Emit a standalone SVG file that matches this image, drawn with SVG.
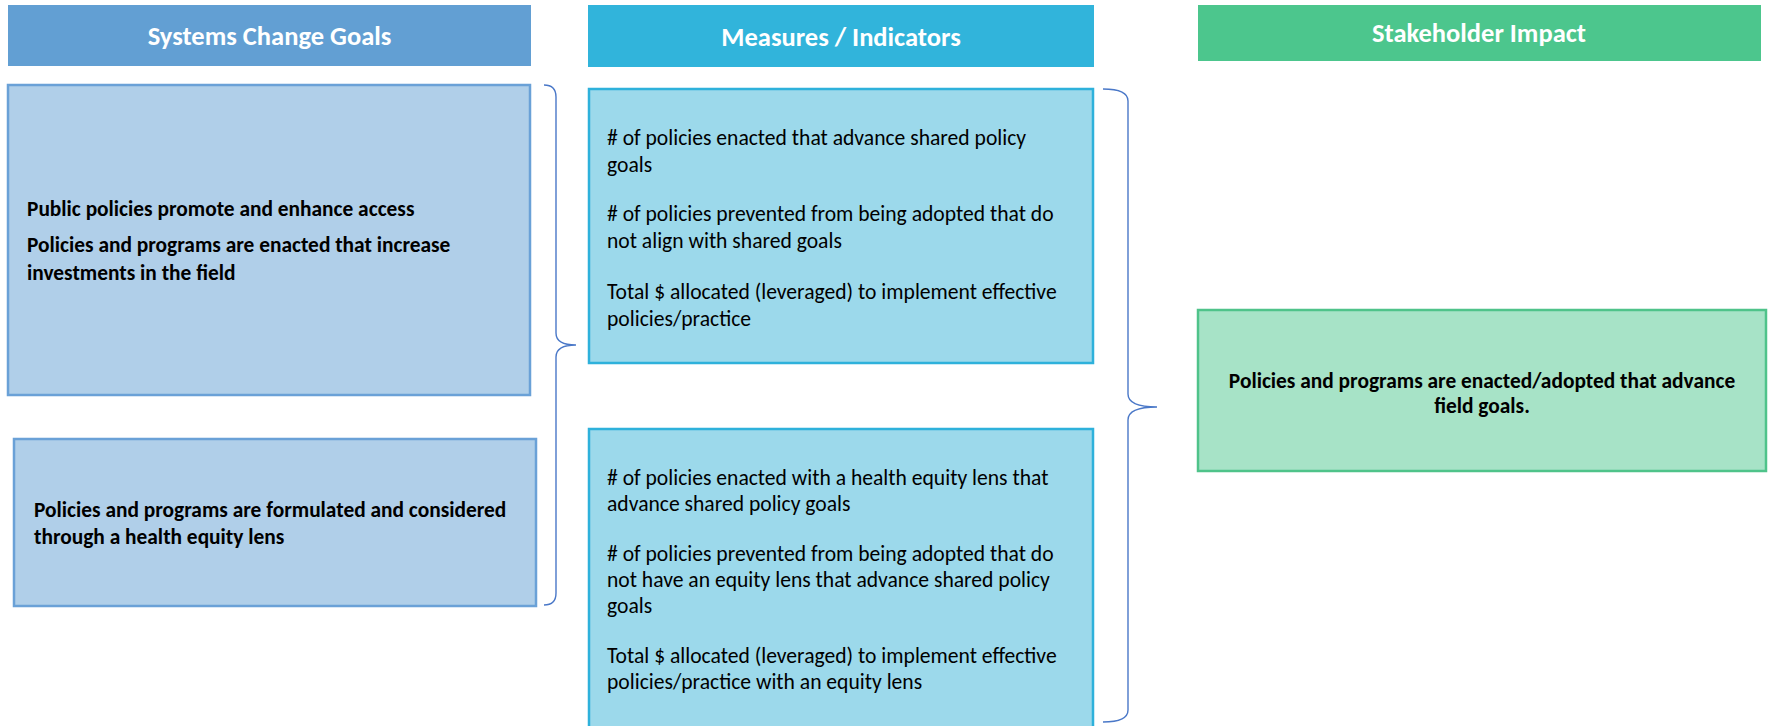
<svg xmlns="http://www.w3.org/2000/svg" width="1768" height="726" viewBox="0 0 1768 726">
<style>
  .hdr { font-family: Carlito, Lato, "Liberation Sans", sans-serif; font-weight: bold; font-size: 26.5px; fill: #ffffff; text-anchor: middle; }
  .bt { font-family: Carlito, Lato, "Liberation Sans", sans-serif; font-weight: bold; font-size: 21.4px; fill: #000000; }
  .rt { font-family: Carlito, Lato, "Liberation Sans", sans-serif; font-size: 21.6px; fill: #000000; }
  .goal { fill: #B0CFE9; stroke: #6AA1D7; stroke-width: 2.5; }
  .meas { fill: #9CD9EB; stroke: #2EB1DB; stroke-width: 2.5; }
  .imp { fill: #A7E3C7; stroke: #4FC38A; stroke-width: 2.5; }
  .brace { fill: none; stroke: #4A78C8; stroke-width: 1.4; }
</style>
<rect width="1768" height="726" fill="#ffffff"/>
<g id="header-goals">
  <rect x="8" y="5" width="523" height="61" fill="#629FD3"/>
  <text class="hdr" x="269.5" y="45">Systems Change Goals</text>
</g>
<g id="header-measures">
  <rect x="588" y="5" width="506" height="62" fill="#31B4DB"/>
  <text class="hdr" x="841" y="46">Measures / Indicators</text>
</g>
<g id="header-impact">
  <rect x="1198" y="5" width="563" height="56" fill="#4CC68D"/>
  <text class="hdr" x="1479" y="42">Stakeholder Impact</text>
</g>
<g id="goal-1">
  <rect class="goal" x="8" y="85" width="522" height="310"/>
  <text class="bt" x="27" y="216">Public policies promote and enhance access</text>
  <text class="bt" x="27" y="252">Policies and programs are enacted that increase</text>
  <text class="bt" x="27" y="280">investments in the field</text>
</g>
<g id="goal-2">
  <rect class="goal" x="14" y="439" width="522" height="167"/>
  <text class="bt" x="34" y="517">Policies and programs are formulated and considered</text>
  <text class="bt" x="34" y="544">through a health equity lens</text>
</g>
<g id="measures-1">
  <rect class="meas" x="589" y="89" width="504" height="274"/>
  <text class="rt" x="607" y="145">
    <tspan x="607" y="145"># of policies enacted that advance shared policy</tspan>
    <tspan x="607" y="172">goals</tspan>
    <tspan x="607" y="221"># of policies prevented from being adopted that do</tspan>
    <tspan x="607" y="248">not align with shared goals</tspan>
    <tspan x="607" y="299">Total $ allocated (leveraged) to implement effective</tspan>
    <tspan x="607" y="326">policies/practice</tspan>
  </text>
</g>
<g id="measures-2">
  <rect class="meas" x="589" y="429" width="504" height="310"/>
  <text class="rt" x="607" y="485">
    <tspan x="607" y="485"># of policies enacted with a health equity lens that</tspan>
    <tspan x="607" y="511">advance shared policy goals</tspan>
    <tspan x="607" y="561"># of policies prevented from being adopted that do</tspan>
    <tspan x="607" y="587">not have an equity lens that advance shared policy</tspan>
    <tspan x="607" y="613">goals</tspan>
    <tspan x="607" y="663">Total $ allocated (leveraged) to implement effective</tspan>
    <tspan x="607" y="689">policies/practice with an equity lens</tspan>
  </text>
</g>
<g id="impact-1">
  <rect class="imp" x="1198" y="310" width="568" height="161"/>
  <text class="bt" x="1482" y="388" text-anchor="middle">Policies and programs are enacted/adopted that advance</text>
  <text class="bt" x="1482" y="413" text-anchor="middle">field goals.</text>
</g>
<g id="connectors">
  <path class="brace" d="M544,85 Q556,85 556,97 L556,333 Q556,345 576,345 Q556,345 556,357 L556,593 Q556,605 544,605"/>
  <path class="brace" d="M1103,89 Q1128,89 1128,101 L1128,394 Q1128,407 1157,407 Q1128,407 1128,420 L1128,710 Q1128,722 1103,722"/>
</g>
</svg>
